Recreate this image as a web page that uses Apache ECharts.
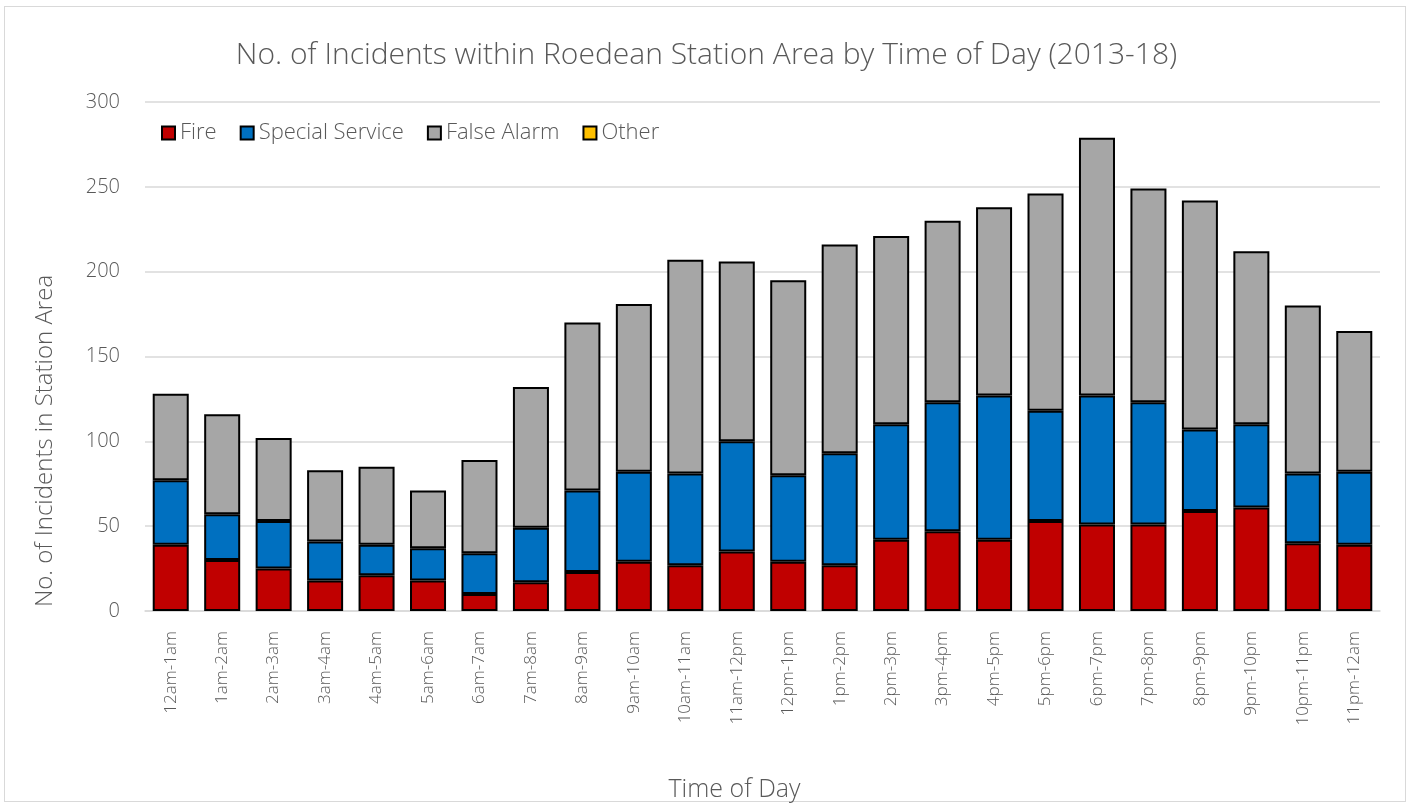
<!DOCTYPE html>
<html>
<head>
<meta charset="utf-8">
<script src="https://cdn.jsdelivr.net/npm/echarts@6/dist/echarts.min.js"></script>
<style>
  html, body { margin: 0; padding: 0; background: #fff; }
  #frame { position: absolute; left: 4px; top: 6px; width: 1402px; height: 796px; border: 1px solid #d9d9d9; box-sizing: border-box; }
  #chart { position: absolute; left: 0; top: 0; width: 1413px; height: 804px; }
</style>
</head>
<body>
<div id="frame"></div>
<div id="chart"></div>
<script>
// Hourly incident counts by type, 2013-18
const categories = ['12am-1am','1am-2am','2am-3am','3am-4am','4am-5am','5am-6am','6am-7am','7am-8am',
  '8am-9am','9am-10am','10am-11am','11am-12pm','12pm-1pm','1pm-2pm','2pm-3pm','3pm-4pm',
  '4pm-5pm','5pm-6pm','6pm-7pm','7pm-8pm','8pm-9pm','9pm-10pm','10pm-11pm','11pm-12am'];
const fire           = [39, 30, 25, 18, 21, 18, 10, 17, 23, 29, 27, 35, 29, 27, 42, 47, 42, 53, 51, 51, 59, 61, 40, 39];
const specialService = [38, 27, 28, 23, 18, 19, 24, 32, 48, 53, 54, 65, 51, 66, 68, 76, 85, 65, 76, 72, 48, 49, 41, 43];
const falseAlarm     = [51, 59, 49, 42, 46, 34, 55, 83, 99, 99, 126, 106, 115, 123, 111, 107, 111, 128, 152, 126, 135, 102, 99, 83];
const other          = [0, 0, 0, 0, 0, 0, 0, 0, 0, 0, 0, 0, 0, 0, 0, 0, 0, 0, 0, 0, 0, 0, 0, 0];
const yTicks = { min: 0, max: 300, interval: 50 };

const FONT = '"Open Sans", "Segoe UI", sans-serif';
const TEXT = '#595959';
const COLORS = { fire: '#c00000', special: '#0070c0', falseAlarm: '#a6a6a6', other: '#ffc000' };

function barSeries(name, data, color, border) {
  return {
    name, type: 'bar', stack: 'total', data,
    barCategoryGap: '30%',
    itemStyle: { color, borderColor: '#000', borderWidth: border },
    emphasis: { disabled: true }
  };
}

function legendItem(name, color) {
  return { name, itemStyle: { color, borderColor: '#000', borderWidth: 2 } };
}

const chart = echarts.init(document.getElementById('chart'), null, { renderer: 'canvas' });
chart.setOption({
  animation: false,
  backgroundColor: 'transparent',
  title: {
    text: 'No. of Incidents within Roedean Station Area by Time of Day (2013-18)',
    left: 'center', top: 35,
    textStyle: { fontFamily: FONT, fontWeight: 300, fontSize: 30, color: TEXT }
  },
  legend: {
    left: 156, top: 117,
    itemWidth: 13, itemHeight: 13, itemGap: 23,
    icon: 'rect',
    textStyle: { fontFamily: FONT, fontWeight: 300, fontSize: 22, color: TEXT },
    data: [
      legendItem('Fire', COLORS.fire),
      legendItem('Special Service', COLORS.special),
      legendItem('False Alarm', COLORS.falseAlarm),
      legendItem('Other', COLORS.other)
    ]
  },
  grid: { left: 145, right: 33, top: 102, bottom: 193, containLabel: false, outerBoundsMode: 'none' },
  xAxis: {
    type: 'category', data: categories,
    name: 'Time of Day', nameLocation: 'middle', nameGap: 166,
    nameTextStyle: { fontFamily: FONT, fontWeight: 300, fontSize: 25, color: TEXT, padding: [0, 56, 0, 0] },
    axisLine: { lineStyle: { color: '#d9d9d9', width: 1.5 } },
    axisTick: { show: false },
    axisLabel: { rotate: 90, margin: 20, fontFamily: FONT, fontWeight: 300, fontSize: 17, color: TEXT }
  },
  yAxis: {
    type: 'value', min: yTicks.min, max: yTicks.max, interval: yTicks.interval,
    axisLine: { show: false }, axisTick: { show: false },
    axisLabel: { margin: 25, fontFamily: FONT, fontWeight: 300, fontSize: 20, color: TEXT },
    splitLine: { lineStyle: { color: '#d9d9d9', width: 1.5 } }
  },
  graphic: [{
    type: 'text',
    x: 45, y: 441,
    rotation: Math.PI / 2,
    style: {
      text: 'No. of Incidents in Station Area',
      fontFamily: FONT, fontWeight: 300, fontSize: 24, fill: TEXT,
      align: 'center', verticalAlign: 'middle'
    }
  }],
  series: [
    barSeries('Fire', fire, COLORS.fire, 2),
    barSeries('Special Service', specialService, COLORS.special, 2),
    barSeries('False Alarm', falseAlarm, COLORS.falseAlarm, 2),
    barSeries('Other', other, COLORS.other, 0)
  ]
});
</script>
</body>
</html>
